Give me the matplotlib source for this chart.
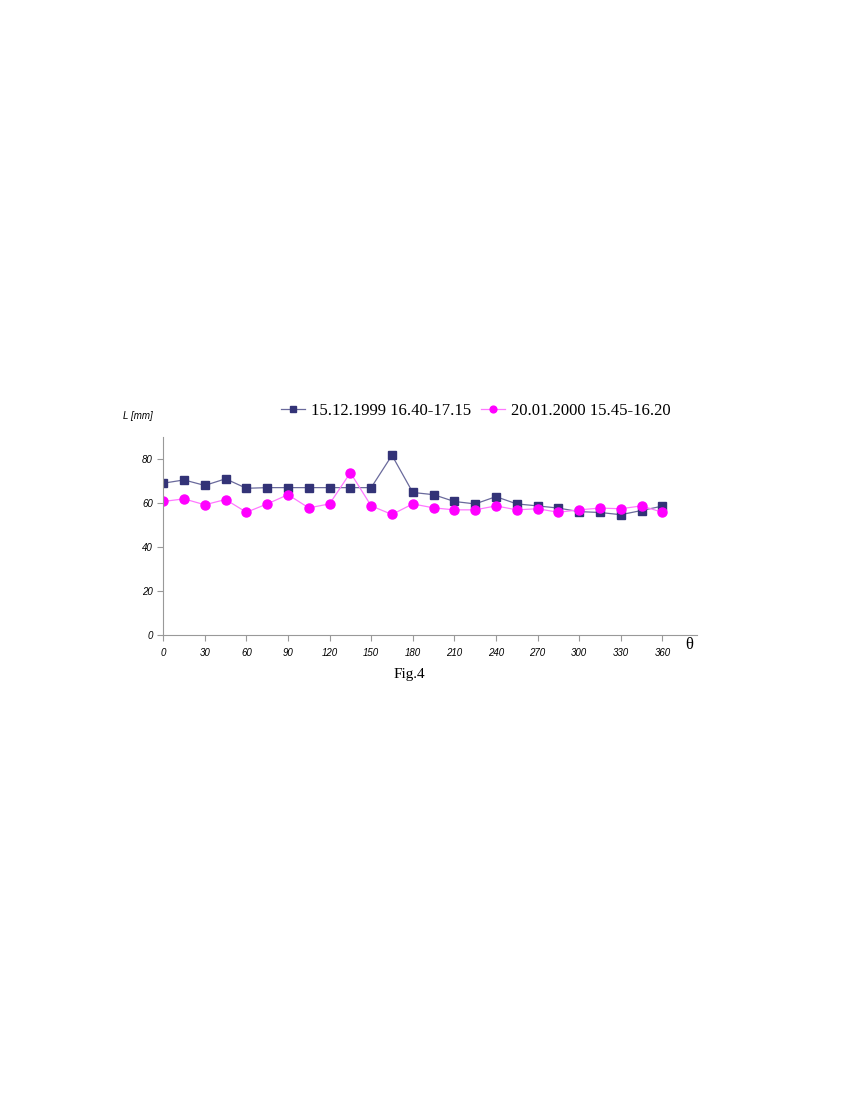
import matplotlib.pyplot as plt
import numpy as np

theta = np.arange(0, 361, 15)
L_1999 = [69, 70.5, 68, 71, 66.7, 67, 67, 67, 67, 67, 67, 81.7, 64.8, 63.8,
          60.7, 59.6, 62.9, 59.6, 58.7, 57.7, 56.1, 55.7, 54.7, 56.6, 58.6]
L_2000 = [60.7, 61.9, 59.2, 61.6, 55.8, 59.6, 63.8, 57.8, 59.6, 73.8, 58.7, 54.8,
          59.6, 57.8, 56.9, 56.9, 58.7, 56.9, 57.4, 55.8, 56.9, 57.7, 57.4, 58.7, 55.8]
labels = ['15.12.1999 16.40-17.15', '20.01.2000 15.45-16.20']
xticks = np.arange(0, 361, 30)
yticks = np.arange(0, 81, 20)

fig = plt.figure(figsize=(8.5, 11), dpi=100)
ax = fig.add_axes([0.192, 0.4227, 0.628, 0.18])

ax.plot(theta, L_1999, color='#6a6a9c', lw=0.9, marker='s', ms=6,
        mfc='#333377', mec='#333377', label=labels[0])
ax.plot(theta, L_2000, color='#ff77ff', lw=0.9, marker='o', ms=6.5,
        mfc='#ff00ff', mec='#ff00ff', label=labels[1])

ax.set_xlim(0, 385)
ax.set_ylim(0, 90)
ax.set_xticks(xticks)
ax.set_yticks(yticks)
for s in ['top', 'right']:
    ax.spines[s].set_visible(False)
for s in ['left', 'bottom']:
    ax.spines[s].set_color('#999999')
ax.tick_params(colors='#999999', labelcolor='black', length=4, width=0.8, labelsize=7)
ax.tick_params(axis='x', pad=5)
for t in ax.get_xticklabels() + ax.get_yticklabels():
    t.set_fontstyle('italic')
    t.set_family('Liberation Sans')

fig.text(0.145, 0.619, 'L [mm]', fontsize=7, style='italic', family='Liberation Sans')
fig.text(0.806, 0.41, 'θ', fontsize=12, family='Liberation Serif')
fig.text(0.482, 0.384, 'Fig.4', fontsize=11, family='Liberation Serif', ha='center')

ax.legend(loc='lower center', bbox_to_anchor=(0.585, 1.015), ncol=2, frameon=False,
          prop={'family': 'Liberation Serif', 'size': 12}, handlelength=1.45,
          handletextpad=0.35, columnspacing=0.6, markerscale=0.75)

plt.savefig('out.png')
